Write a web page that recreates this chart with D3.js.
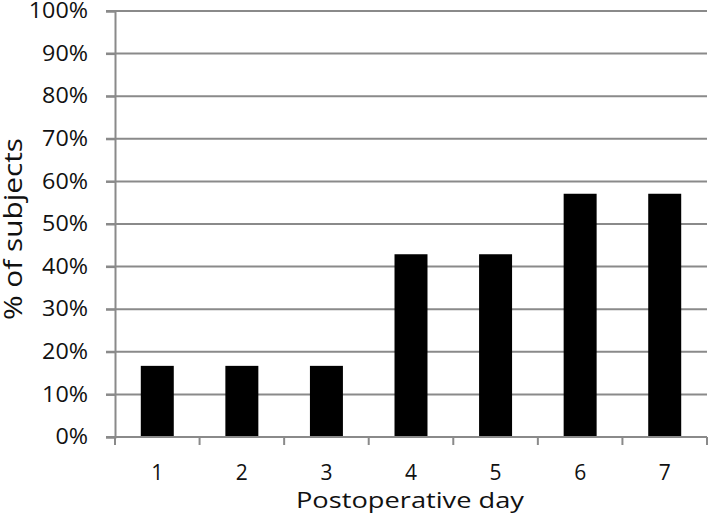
<!DOCTYPE html>
<html>
<head>
<meta charset="utf-8">
<script src="https://cdn.jsdelivr.net/npm/d3@7"></script>
<style>
  body { margin: 0; background: #fff; }
  text { font-family: "Open Sans", "Noto Sans", sans-serif; fill: #111; }
</style>
</head>
<body>
<div id="chart"></div>
<script>
// data
var days = ["1", "2", "3", "4", "5", "6", "7"];
var pctSubjects = [16.7, 16.7, 16.7, 42.9, 42.9, 57.1, 57.1];
var yTicks = [0, 10, 20, 30, 40, 50, 60, 70, 80, 90, 100];

var widthTotal = 709, heightTotal = 518;
var margin = {top: 11, right: 2, bottom: 81, left: 115};

var svg = d3.select("#chart").append("svg")
  .attr("width", widthTotal)
  .attr("height", heightTotal);

var x = d3.scaleBand()
  .domain(days)
  .range([margin.left, widthTotal - margin.right])
  .padding(0);

var y = d3.scaleLinear()
  .domain([0, 100])
  .range([heightTotal - margin.bottom, margin.top]);

var gridColor = "#8a8a8a";

// widen text a bit, the original font runs wider than Open Sans
function stretch(sel, k) {
  sel.each(function() {
    var len = this.getComputedTextLength();
    d3.select(this)
      .attr("textLength", len * k)
      .attr("lengthAdjust", "spacingAndGlyphs");
  });
}

//gridlines (incl. the small outward tick)
svg.append("g")
  .selectAll("line")
  .data(yTicks)
  .enter()
  .append("line")
  .attr("x1", margin.left - 9)
  .attr("x2", widthTotal - margin.right)
  .attr("y1", function(d) { return y(d); })
  .attr("y2", function(d) { return y(d); })
  .attr("stroke", gridColor)
  .attr("stroke-width", 2);

//bars
var barW = x.bandwidth() * 0.39;
svg.append("g")
  .selectAll("rect")
  .data(pctSubjects)
  .enter()
  .append("rect")
  .attr("x", function(d, i) { return x(days[i]) + (x.bandwidth() - barW) / 2; })
  .attr("y", function(d) { return y(d); })
  .attr("width", barW)
  .attr("height", function(d) { return y(0) - y(d); })
  .attr("fill", "#000");

//y axis
var yAxis = svg.append("g")
  .attr("transform", "translate(" + margin.left + ",0)")
  .call(d3.axisLeft(y).tickValues(yTicks).tickSize(9).tickPadding(18)
    .tickFormat(function(d) { return d + "%"; }));
yAxis.select(".domain").attr("stroke", gridColor).attr("stroke-width", 2);
yAxis.selectAll(".tick line").attr("stroke", gridColor).attr("stroke-width", 2);
yAxis.selectAll(".tick text")
  .attr("font-size", "21px")
  .attr("font-family", "'Open Sans', sans-serif")
  .attr("fill", "#111")
  .call(stretch, 1.11);

//x axis: ticks on category boundaries
var xAxisG = svg.append("g");
xAxisG.append("line")
  .attr("x1", margin.left)
  .attr("x2", widthTotal - margin.right)
  .attr("y1", y(0))
  .attr("y2", y(0))
  .attr("stroke", gridColor)
  .attr("stroke-width", 2);

var bounds = days.map(function(d) { return x(d); }).concat([x(days[days.length - 1]) + x.bandwidth()]);
xAxisG.selectAll("line.tick")
  .data(bounds)
  .enter()
  .append("line")
  .attr("class", "tick")
  .attr("x1", function(d) { return d; })
  .attr("x2", function(d) { return d; })
  .attr("y1", y(0))
  .attr("y2", y(0) + 8)
  .attr("stroke", gridColor)
  .attr("stroke-width", 2);

xAxisG.selectAll("text")
  .data(days)
  .enter()
  .append("text")
  .attr("x", function(d) { return x(d) + x.bandwidth() / 2; })
  .attr("y", 480)
  .attr("text-anchor", "middle")
  .attr("font-size", "21px")
  .text(function(d) { return d; });

//axis titles
svg.append("text")
  .attr("x", 410)
  .attr("y", 508)
  .attr("text-anchor", "middle")
  .attr("font-size", "22.5px")
  .text("Postoperative day")
  .call(stretch, 1.21);

svg.append("text")
  .attr("transform", "translate(22,229) rotate(-90)")
  .attr("text-anchor", "middle")
  .attr("font-size", "25px")
  .text("% of subjects")
  .attr("textLength", 182)
  .attr("lengthAdjust", "spacingAndGlyphs");
</script>
</body>
</html>
